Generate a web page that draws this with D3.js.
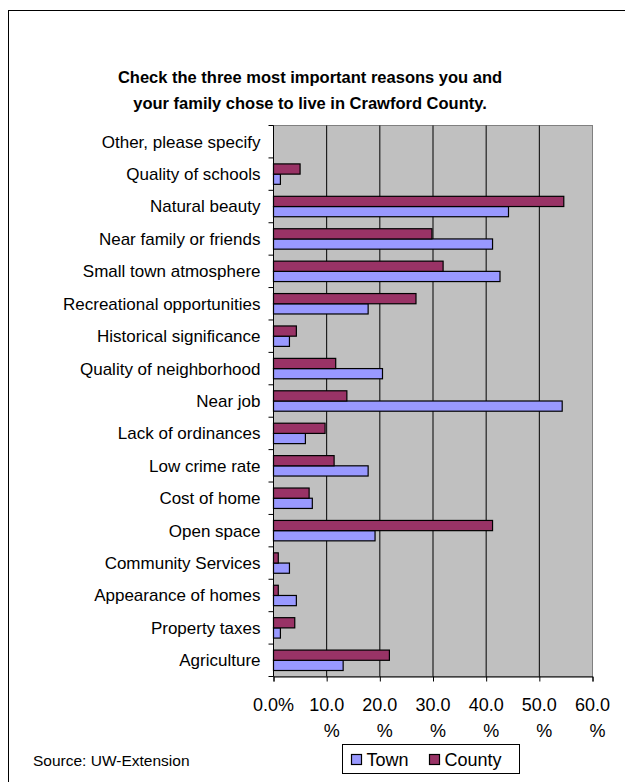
<!DOCTYPE html>
<html>
<head>
<meta charset="utf-8">
<script src="https://cdn.jsdelivr.net/npm/d3@7"></script>
<style>
  body { margin: 0; background: #fff; }
  text { font-family: "Liberation Sans", Arial, sans-serif; fill: #000; }
</style>
</head>
<body>
<div id="chart"></div>
<script>
// categories, top to bottom
const categories = [
  "Other, please specify", "Quality of schools", "Natural beauty",
  "Near family or friends", "Small town atmosphere", "Recreational opportunities",
  "Historical significance", "Quality of neighborhood", "Near job",
  "Lack of ordinances", "Low crime rate", "Cost of home", "Open space",
  "Community Services", "Appearance of homes", "Property taxes", "Agriculture"
];
const townValues   = [0, 1.3, 44.2, 41.2, 42.6, 17.8, 3.0, 20.5, 54.3, 6.0, 17.8, 7.3, 19.1, 3.0, 4.3, 1.3, 13.1];
const countyValues = [0, 5.0, 54.6, 29.8, 31.9, 26.8, 4.3, 11.7, 13.8, 9.7, 11.4, 6.7, 41.2, 0.9, 0.9, 4.0, 21.8];
const xTicks = [0, 10, 20, 30, 40, 50, 60];
const seriesNames = ["Town", "County"];
const seriesColors = { Town: "#9999FF", County: "#993366" };

const W = 625, H = 782;
const plot = { left: 273.5, right: 592.5, top: 125.5, bottom: 676.5 };

const svg = d3.select("#chart").append("svg")
  .attr("width", W).attr("height", H);

// outer frame (clipped on right and bottom like the source)
svg.append("rect")
  .attr("x", 8.5).attr("y", 10.5)
  .attr("width", W).attr("height", H)
  .attr("fill", "none").attr("stroke", "#000").attr("stroke-width", 1);

// title
svg.append("text")
  .attr("x", 310).attr("y", 83)
  .attr("text-anchor", "middle")
  .style("font-weight", "bold").style("font-size", "16.5px")
  .text("Check the three most important reasons you and");
svg.append("text")
  .attr("x", 310).attr("y", 109)
  .attr("text-anchor", "middle")
  .style("font-weight", "bold").style("font-size", "16.5px")
  .text("your family chose to live in Crawford County.");

const x = d3.scaleLinear().domain([0, 60]).range([plot.left, plot.right]);
const y = d3.scaleBand().domain(categories)
  .range([plot.top, plot.bottom])
  .paddingInner(0.37).paddingOuter(0.185);
const ySub = d3.scaleBand().domain(["County", "Town"]).range([0, y.bandwidth()]);

// plot background
svg.append("rect")
  .attr("x", plot.left).attr("y", plot.top)
  .attr("width", plot.right - plot.left).attr("height", plot.bottom - plot.top)
  .attr("fill", "#C0C0C0").attr("stroke", "#808080");

// gridlines
svg.append("g").selectAll("line")
  .data(xTicks.slice(1, -1))
  .enter().append("line")
  .attr("x1", d => x(d)).attr("x2", d => x(d))
  .attr("y1", plot.top).attr("y2", plot.bottom)
  .attr("stroke", "#000").attr("stroke-width", 1);

// bars
const rows = categories.map((c, i) => ({ cat: c, Town: townValues[i], County: countyValues[i] }));
const groups = svg.append("g").selectAll("g")
  .data(rows)
  .enter().append("g")
  .attr("transform", d => `translate(0,${y(d.cat)})`);

groups.selectAll("rect")
  .data(d => seriesNames.map(s => ({ s, v: d[s] })).filter(e => e.v > 0))
  .enter().append("rect")
  .attr("x", x(0))
  .attr("y", d => ySub(d.s))
  .attr("width", d => x(d.v) - x(0))
  .attr("height", ySub.bandwidth())
  .attr("fill", d => seriesColors[d.s])
  .attr("stroke", "#000").attr("stroke-width", 1.2);

// y axis
const yAxis = svg.append("g")
  .attr("transform", `translate(${plot.left},0)`);
yAxis.append("line")
  .attr("x1", 0).attr("x2", 0).attr("y1", plot.top).attr("y2", plot.bottom)
  .attr("stroke", "#000");
const yBounds = d3.range(categories.length + 1).map(i => plot.top + i * y.step());
yAxis.selectAll(".tick")
  .data(yBounds)
  .enter().append("line")
  .attr("x1", -5).attr("x2", 0)
  .attr("y1", d => d).attr("y2", d => d)
  .attr("stroke", "#000");
yAxis.selectAll(".lbl")
  .data(categories)
  .enter().append("text")
  .attr("x", -13)
  .attr("y", d => y(d) + y.bandwidth() / 2)
  .attr("dy", "0.35em")
  .attr("text-anchor", "end")
  .style("font-size", "17px")
  .text(d => d);

// x axis
const xAxis = svg.append("g")
  .attr("transform", `translate(0,${plot.bottom})`)
  .call(d3.axisBottom(x).tickValues(xTicks).tickSize(5).tickFormat(""));
xAxis.select(".domain").attr("stroke", "#000");
xAxis.selectAll(".tick line").attr("stroke", "#000");

const xl = svg.append("g").selectAll("text")
  .data(xTicks)
  .enter().append("text")
  .attr("text-anchor", "middle")
  .style("font-size", "18px");
xl.append("tspan")
  .attr("x", d => x(d)).attr("y", 711)
  .text(d => d === 0 ? "0.0%" : d3.format(".1f")(d));
xl.filter(d => d !== 0).append("tspan")
  .attr("x", d => x(d) + 5).attr("y", 737)
  .text("%");

// legend
const lg = svg.append("g").attr("transform", "translate(342.5,744.5)");
lg.append("rect").attr("width", 177).attr("height", 29)
  .attr("fill", "#fff").attr("stroke", "#000");
const li = lg.selectAll(".item").data(seriesNames).enter().append("g")
  .attr("transform", (d, i) => `translate(${i === 0 ? 9 : 87},0)`);
li.append("rect").attr("x", 0).attr("y", 10).attr("width", 10).attr("height", 10)
  .attr("fill", d => seriesColors[d]).attr("stroke", "#000").attr("stroke-width", 1.2);
li.append("text").attr("x", 15).attr("y", 21)
  .style("font-size", "18px")
  .text(d => d);

// source note
svg.append("text")
  .attr("x", 33).attr("y", 766)
  .style("font-size", "15.5px")
  .text("Source: UW-Extension");
</script>
</body>
</html>
